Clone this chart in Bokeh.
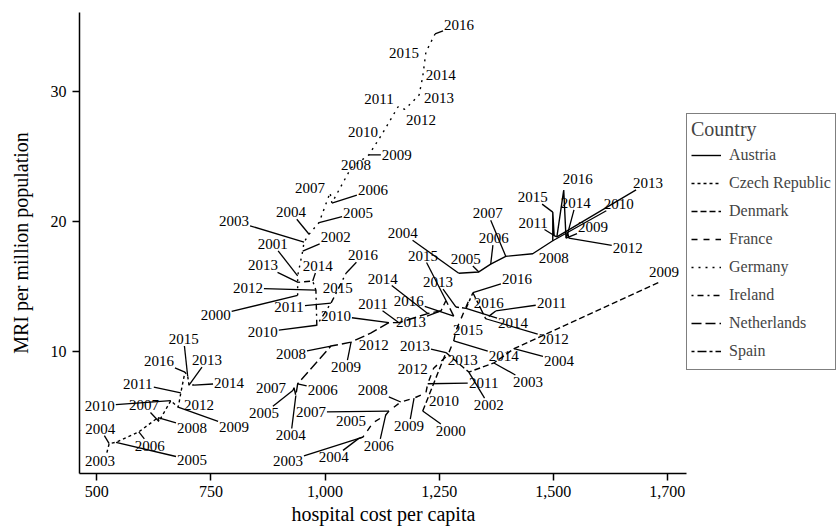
import numpy as np
from bokeh.plotting import figure
from bokeh.models import Legend, LegendItem, FixedTicker, Range1d, Title
from bokeh.embed import file_html
from bokeh.resources import INLINE
from bokeh.core.properties import value

countries = ["Austria", "Czech Republic", "Denmark", "France",
             "Germany", "Ireland", "Netherlands", "Spain"]

# ---- data ----
austria_year = [2004, 2005, 2006, 2007, 2008, 2009, 2010, 2011, 2012, 2013, 2014, 2015, 2016]
austria_cost = [1293, 1337, 1363, 1396, 1455, 1528, 1499, 1502, 1534, 1508, 1532, 1499, 1523]
austria_mri = [16.0, 16.1, 16.7, 17.3, 17.5, 18.7, 18.5, 18.9, 18.7, 18.8, 19.1, 20.7, 22.4]

czech_year = [2003, 2004, 2005, 2006, 2007, 2008, 2009, 2010, 2011, 2012, 2013, 2014, 2015, 2016]
czech_cost = [522, 527, 542, 592, 636, 634, 678, 662, 684, 680, 702, 713, 699, 693]
czech_mri = [2.2, 2.9, 3.0, 3.8, 4.6, 4.9, 5.7, 6.2, 6.8, 6.0, 7.4, 7.4, 8.1, 8.4]

denmark_year = [2000, 2002, 2003, 2004, 2009, 2013]
denmark_cost = [1214, 1315, 1370, 1414, 1732, 1265]
denmark_mri = [5.4, 8.4, 9.1, 10.2, 15.3, 9.9]

france_year = [2003, 2004, 2005, 2006, 2007, 2008, 2009, 2010, 2011, 2012, 2013, 2014, 2015, 2016]
france_cost = [1083, 1074, 1105, 1133, 1140, 1166, 1195, 1221, 1225, 1238, 1269, 1282, 1287, 1315]
france_mri = [3.4, 3.3, 4.5, 5.1, 5.4, 6.1, 6.4, 6.8, 7.5, 8.7, 9.7, 10.8, 11.6, 13.9]

germany_year = list(range(2000, 2017))
germany_cost = [940, 940, 951, 954, 965, 987, 1015, 1011, 1057, 1096, 1125, 1160, 1175, 1206, 1214, 1221, 1241]
germany_mri = [14.3, 15.8, 17.7, 18.4, 19.0, 19.9, 21.4, 22.2, 24.1, 25.1, 26.7, 28.8, 28.6, 29.7, 31.1, 33.0, 34.4]

ireland_year = [2010, 2011, 2012, 2013, 2014, 2015, 2016]
ireland_cost = [982, 1013, 980, 941, 973, 1019, 1046]
ireland_mri = [12.0, 13.7, 14.7, 15.3, 15.4, 14.1, 16.0]

netherlands_year = [2004, 2005, 2006, 2007, 2008, 2009, 2010, 2011, 2012, 2013, 2014, 2015, 2016]
netherlands_cost = [936, 930, 940, 932, 1013, 1057, 1140, 1162, 1100, 1254, 1225, 1265, 1282]
netherlands_mri = [6.6, 7.0, 7.5, 7.2, 10.4, 10.7, 12.2, 12.2, 11.4, 13.1, 12.9, 13.9, 12.7]

spain_year = [2011, 2012, 2013, 2014, 2016]
spain_cost = [1374, 1352, 1287, 1309, 1324]
spain_mri = [13.1, 12.5, 13.4, 13.3, 14.5]

# ---- label placement (pixel offsets of each year label from its point) ----
austria_dx = [-56, -13, 3, -18, 21, 27, 66, -21, 59, 91, 8, -20, 14]
austria_dy = [-40, -13, -26, -43, 4, -11, -37, -13, 10, -54, -30, -15, -11]
czech_dx = [-7, -9, 76, 11, -15, 34, 56, -71, -43, 20, 18, 35, -4, -26]
czech_dy = [8, -15, 18, 14, -16, 10, 20, 5, -9, 2, -25, -2, -37, -11]
denmark_dx = [28, 20, 34, 45, 5, -31]
denmark_dy = [20, 33, 19, 12, -10, -7]
france_dx = [-75, -25, -22, -7, -78, -28, -5, 18, 56, -21, 15, 50, 12, 20]
france_dy = [24, 19, -2, 31, 1, -12, 28, 8, -1, 1, 5, 15, 0, 2]
germany_dx = [-82, -25, 33, -70, -18, 39, 41, -20, 5, 28, -19, -19, 16, 20, 18, -22, 24]
germany_dy = [20, -32, -14, -21, -22, -10, -13, -5, -3, 0, -2, -8, 11, 3, -2, 1, -9]
ireland_dx = [-54, -42, -68, -35, 5, 4, 17]
ireland_dy = [7, 4, -2, -17, -15, -10, -18]
netherlands_dx = [-5, -29, 25, -23, -40, -5, -53, -26, 3, -30, -45, -23, -45]
netherlands_dy = [40, 23, 6, 0, 8, 25, -7, -19, 12, 11, -35, -45, -15]
spain_dx = [56, 68, -18, 47, 44]
spain_dy = [-8, 20, -25, 15, -14]

series = {
    "Austria": (austria_year, austria_cost, austria_mri, austria_dx, austria_dy),
    "Czech Republic": (czech_year, czech_cost, czech_mri, czech_dx, czech_dy),
    "Denmark": (denmark_year, denmark_cost, denmark_mri, denmark_dx, denmark_dy),
    "France": (france_year, france_cost, france_mri, france_dx, france_dy),
    "Germany": (germany_year, germany_cost, germany_mri, germany_dx, germany_dy),
    "Ireland": (ireland_year, ireland_cost, ireland_mri, ireland_dx, ireland_dy),
    "Netherlands": (netherlands_year, netherlands_cost, netherlands_mri, netherlands_dx, netherlands_dy),
    "Spain": (spain_year, spain_cost, spain_mri, spain_dx, spain_dy),
}
dashes = {
    "Austria": "solid", "Czech Republic": "3 3", "Denmark": "6 3", "France": "6 6",
    "Germany": "2 5", "Ireland": "2 4 6 4", "Netherlands": "10 4", "Spain": "3 3 9 3",
}

x_ticks = [500, 750, 1000, 1250, 1500, 1750]
x_tick_labels = ["500", "750", "1,000", "1,250", "1,500", "1,700"]
y_ticks = [10, 20, 30]

FONT = "Liberation Serif"
X0, X1 = 462, 1792          # extent of the x axis line
Y0, Y1 = 0.6, 36.05
FW, FH = 607, 461           # pixel size of the axis area
sx = FW / (X1 - X0)
sy = FH / (Y1 - Y0)
W, H = 837, 531
LEFT, TOP, BOTTOM = 79, 12, 58
frame_w = W - LEFT
XR = X0 + frame_w / sx       # frame extends under the legend

p = figure(width=W, height=H, x_range=Range1d(X0, XR), y_range=Range1d(Y0, Y1),
           output_backend="svg", toolbar_location=None,
           min_border_left=LEFT, min_border_right=0, min_border_top=TOP,
           min_border_bottom=BOTTOM)
p.outline_line_color = None
p.grid.visible = False
p.background_fill_color = "white"

for ax in (p.xaxis[0], p.yaxis[0]):
    ax.axis_line_width = 1.5
    ax.axis_line_color = "black"
    ax.major_tick_line_width = 1.5
    ax.major_tick_line_color = "black"
    ax.major_tick_out = 7
    ax.major_tick_in = 0
    ax.minor_tick_out = 0
    ax.minor_tick_in = 0
    ax.major_label_text_font = FONT
    ax.major_label_text_font_size = "16px"
    ax.major_label_text_color = "black"
    ax.axis_label_text_font = FONT
    ax.axis_label_text_font_size = "20px"
    ax.axis_label_text_font_style = "normal"
    ax.axis_label_text_color = "black"

p.xaxis.bounds = (X0, X1)
p.xaxis.ticker = FixedTicker(ticks=x_ticks)
p.xaxis.major_label_overrides = dict(zip(x_ticks, x_tick_labels))
p.yaxis.ticker = FixedTicker(ticks=y_ticks)
p.yaxis.axis_label = "MRI per million population"
p.xaxis.major_label_standoff = 5
p.yaxis.major_label_standoff = 6
p.yaxis.axis_label_standoff = 16

# x axis title, centred under the axis line (not under the whole frame)
xtitle = Title(text="hospital cost per capita", align="left", offset=212,
               text_font=FONT, text_font_size="20px", text_font_style="normal",
               text_color="black", standoff=2)
p.add_layout(xtitle, "below")

HW, HH = 16.0, 7.0   # half size of a year label box, px
MIN_SEG = 8.0        # shorter leader lines are not drawn
renderers = {}
for c in countries:
    yr, cost, mri, dx, dy = [np.asarray(a, dtype=float) for a in series[c]]
    order = np.argsort(cost, kind="stable")
    r = p.line(cost[order], mri[order], line_color="black", line_width=1.4,
               line_dash=dashes[c])
    renderers[c] = r

    lx = cost + dx / sx
    ly = mri - dy / sy
    x0s, y0s, x1s, y1s = [], [], [], []
    for i in range(len(cost)):
        vx, vy = -dx[i], -dy[i]
        tx = HW / abs(vx) if vx != 0 else np.inf
        ty = HH / abs(vy) if vy != 0 else np.inf
        t = min(tx, ty)
        if t >= 1:
            continue
        seg_len = (1 - t) * np.hypot(vx, vy)
        if seg_len < MIN_SEG:
            continue
        ex_px = dx[i] + t * vx
        ey_px = dy[i] + t * vy
        x0s.append(cost[i]); y0s.append(mri[i])
        x1s.append(cost[i] + ex_px / sx); y1s.append(mri[i] - ey_px / sy)
    if x0s:
        p.segment(x0s, y0s, x1s, y1s, line_color="black", line_width=1.3)
    p.text(lx, ly, text=[str(int(v)) for v in yr], text_align="center",
           text_baseline="middle", text_font=value(FONT), text_font_size="15px",
           text_color="black")

legend = Legend(items=[LegendItem(label=c, renderers=[renderers[c]]) for c in countries],
                location=(FW, 103), title="Country")
legend.title_text_font = FONT
legend.title_text_font_size = "20px"
legend.title_text_font_style = "normal"
legend.title_standoff = 0
legend.label_text_font = FONT
legend.label_text_font_size = "16px"
legend.glyph_width = 30
legend.glyph_height = 28
legend.label_height = 28
legend.label_standoff = 8
legend.spacing = 0
legend.padding = 4
legend.margin = 0
legend.border_line_color = "black"
legend.border_line_width = 1.5
legend.background_fill_color = "white"
legend.background_fill_alpha = 1
p.add_layout(legend)

open("out.html", "w").write(file_html(p, INLINE))
